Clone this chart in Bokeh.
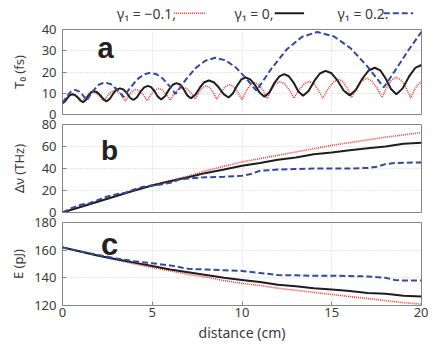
from bokeh.plotting import figure
from bokeh.layouts import column
from bokeh.models import Range1d, FixedTicker
from bokeh.embed import file_html
from bokeh.resources import INLINE
from bokeh.core.properties import value

# ---------------- data ----------------
# Panel a: T0 (fs) vs distance (cm)
a_red_x = [0, 0.2, 0.4, 0.6, 0.77, 0.93, 1.1, 1.3, 1.5, 1.7, 1.9, 2.1, 2.3, 2.5, 2.7, 2.9,
           3.1, 3.3, 3.5, 3.7, 3.9, 4.1, 4.31, 4.51, 4.72, 4.93, 5.14, 5.35, 5.57, 5.78, 6.0,
           6.23, 6.47, 6.7, 6.93, 7.17, 7.4, 7.6, 7.8, 8.0, 8.2, 8.4, 8.6, 8.83, 9.07, 9.3,
           9.53, 9.77, 10.0, 10.23, 10.47, 10.7, 10.93, 11.17, 11.4, 11.63, 11.87, 12.1,
           12.37, 12.63, 12.9, 13.18, 13.47, 13.75, 14.0, 14.25, 14.5, 14.8, 15.1, 15.4,
           15.63, 15.87, 16.1, 16.38, 16.67, 16.95, 17.23, 17.52, 17.8, 18.07, 18.33, 18.6,
           18.87, 19.13, 19.4, 19.6, 19.8, 20.0]
a_red_y = [5.5, 7.5, 9.0, 9.5, 9.0, 7.8, 6.0, 8.3, 9.9, 10.5, 9.9, 8.4, 6.2, 8.8, 10.6, 11.3,
           10.7, 8.8, 6.3, 9.1, 11.1, 11.8, 11.1, 9.2, 6.5, 9.4, 11.5, 12.2, 11.5, 9.5, 6.8,
           9.8, 12.0, 12.8, 12.1, 10.1, 7.3, 10.4, 12.7, 13.5, 12.7, 10.4, 7.2, 10.6, 13.1, 14.0,
           13.1, 10.5, 7.0, 11.0, 14.0, 15.0, 14.0, 11.3, 7.5, 11.5, 14.5, 15.5,
           14.5, 11.6, 7.7, 11.6, 14.5, 15.5, 14.5, 11.6, 7.7, 12.1, 15.4, 16.5,
           15.4, 12.3, 8.0, 12.5, 15.8, 17.0, 15.8, 12.5, 8.0, 12.8, 16.3, 17.5,
           16.2, 12.7, 7.8, 11.5, 14.0, 15.5]

a_black_x = [0, 0.14, 0.28, 0.41, 0.55, 0.7, 0.85, 1.0, 1.15, 1.3, 1.45, 1.6, 1.75, 1.93, 2.1,
             2.28, 2.45, 2.64, 2.83, 3.01, 3.2, 3.39, 3.58, 3.76, 3.95, 4.15, 4.35, 4.55, 4.75,
             4.94, 5.13, 5.31, 5.5, 5.71, 5.93, 6.14, 6.35, 6.55, 6.75, 6.95, 7.15, 7.4, 7.65,
             7.9, 8.15, 8.43, 8.7, 8.98, 9.25, 9.49, 9.73, 9.96, 10.2, 10.46, 10.73, 10.99,
             11.25, 11.53, 11.8, 12.08, 12.35, 12.61, 12.88, 13.14, 13.4, 13.71, 14.03, 14.34,
             14.65, 14.99, 15.33, 15.66, 16.0, 16.35, 16.7, 17.05, 17.4, 17.7, 18.0, 18.3,
             18.6, 18.95, 19.3, 19.65, 20.0]
a_black_y = [5.3, 6.1, 7.8, 9.1, 9.5, 9.1, 8.0, 6.5, 5.8, 6.8, 8.9, 10.5, 11.0, 10.5, 9.1,
             7.2, 6.2, 7.4, 9.9, 11.7, 12.3, 11.8, 10.1, 7.9, 6.8, 8.1, 10.8, 12.8, 13.5,
             12.9, 10.9, 8.4, 7.1, 8.6, 11.7, 14.0, 14.8, 14.1, 11.9, 9.0, 7.6, 9.3, 12.6,
             15.2, 16.0, 15.2, 12.8, 9.6, 8.0, 9.9, 13.6, 16.5, 17.4, 16.5, 13.8, 10.2,
             8.4, 10.5, 14.8, 17.9, 19.0, 18.0, 14.9, 10.8, 8.8, 11.1, 15.8, 19.3,
             20.5, 19.4, 15.9, 11.3, 9.0, 11.6, 16.8, 20.7, 22.0, 20.8, 17.0, 12.0,
             9.5, 12.3, 17.8, 21.9, 23.3]

a_blue_x = [0, 0.23, 0.47, 0.7, 0.92, 1.13, 1.35, 1.68, 2.02, 2.35, 2.7, 3.05, 3.4, 3.78,
            4.15, 4.53, 4.9, 5.25, 5.6, 5.95, 6.3, 6.85, 7.4, 7.95, 8.5, 9.08, 9.65, 10.22,
            10.8, 11.65, 12.5, 13.35, 14.2, 15.13, 16.05, 16.98, 17.9, 18.5, 19.25, 20.0]
a_blue_y = [5.3, 8.5, 10.8, 11.6, 10.9, 9.1, 6.6, 10.9, 14.0, 15.1, 14.2, 11.7, 8.3, 12.6,
            16.4, 18.8, 19.7, 18.9, 16.8, 13.5, 9.7, 16.2, 21.7, 25.3, 26.7, 25.5, 22.2, 17.1,
            11.2, 21.7, 30.7, 36.6, 38.8, 36.7, 31.2, 22.7, 12.8, 20.3, 30.0, 38.9]

# Panel b: spectral width (THz)
b_x = [0, 1, 2, 3, 4, 5, 6, 7, 8, 9, 10, 11, 12, 13, 14, 15, 16, 17, 18, 19, 20]
b_red_y = [0, 5, 10, 15, 20, 25, 29, 33, 38, 42, 46, 49, 52, 55, 58, 61, 63.5, 66, 68.5, 70.5, 72.5]
b_black_y = [0, 5, 10, 15, 20, 24.5, 28.5, 32, 36, 39, 42.5, 45, 48, 50, 53, 54.5, 56.5, 58.5, 60,
             62.5, 63.5]
b_blue_x = [0, 0.5, 1, 1.5, 2, 2.5, 3, 3.5, 4, 4.5, 5, 5.5, 6, 6.5, 7, 8, 9, 10, 10.5, 11, 11.5,
            12, 13, 14, 15, 16, 17, 17.5, 18, 18.5, 19, 20]
b_blue_y = [0, 4, 7, 8.5, 11.5, 14.5, 16.5, 18, 21, 23.5, 24.5, 25.5, 27, 30, 31, 32, 32.5, 33.5,
            35, 38, 38.5, 39, 39.5, 40, 40, 40, 40.5, 41.5, 44, 45, 45.2, 45.5]

# Panel c: energy (pJ)
c_x = [0, 1, 2, 3, 4, 5, 6, 7, 8, 9, 10, 11, 12, 13, 14, 15, 16, 17, 18, 19, 20]
c_red_y = [162, 159, 156, 153, 150, 147.5, 145, 142.5, 140.5, 138, 136, 134.5, 132.5, 131, 129.5,
           128, 126.5, 125, 123.5, 122, 121]
c_black_y = [162, 159, 156, 153.5, 151, 148.5, 146, 144, 142, 140, 138.5, 137, 135, 134, 132.5,
             131.5, 130.5, 129, 128.5, 127, 126.5]
c_blue_x = [0, 1, 2, 3, 4, 5, 6, 7, 8, 9, 10, 11, 12, 13, 14, 15, 16, 17, 18, 18.5, 19, 20]
c_blue_y = [162, 159, 156.5, 154, 152, 150.5, 149, 146.5, 146, 145.5, 145, 143.5, 142, 141.8,
            141.5, 141.5, 141.3, 141, 140, 138.5, 138, 138]

x_ticks = [0, 5, 10, 15, 20]
a_ticks = [0, 10, 20, 30, 40]
b_ticks = [0, 20, 40, 60, 80]
c_ticks = [120, 140, 160, 180]
legend_labels = ["γ₁ = −0.1,", "γ₁ = 0,", "γ₁ = 0.2."]

# ---------------- styles ----------------
FONT = "Noto Sans"
W = 428
RED = "#f03a3a"
BLACK = "#1e1e1e"
BLUE = "#3448a2"
TXT = "#3a3a3a"
RED_DASH = "1 1"
BLUE_DASH = "6 3"


def draw(p, xs, ys, kind):
    if kind == "red":
        p.line(xs, ys, color=RED, line_width=1.6, line_dash=RED_DASH)
    elif kind == "black":
        p.line(xs, ys, color=BLACK, line_width=2)
    else:
        p.line(xs, ys, color=BLUE, line_width=2, line_dash=BLUE_DASH)


def panel(h, top, bottom, yr, yticks, ylabel, show_x, label_standoff, overlap):
    p = figure(width=W, height=h, output_backend="svg", toolbar_location=None,
               x_range=Range1d(0, 20), y_range=Range1d(*yr),
               min_border_left=62, min_border_right=7,
               min_border_top=top, min_border_bottom=bottom,
               margin=(-overlap, 0, 0, 0))
    p.border_fill_color = None
    p.outline_line_color = "#858585"
    p.outline_line_width = 1
    p.background_fill_color = "white"
    for ax in (p.xaxis[0], p.yaxis[0]):
        ax.axis_line_color = None
        ax.major_tick_in = 4
        ax.major_tick_out = 0
        ax.major_tick_line_color = "#858585"
        ax.minor_tick_line_color = None
        ax.major_label_text_font = FONT
        ax.major_label_text_font_size = "13px"
        ax.major_label_text_color = TXT
        ax.axis_label_text_font = FONT
        ax.axis_label_text_font_style = "normal"
        ax.axis_label_text_color = TXT
    p.xaxis.ticker = FixedTicker(ticks=x_ticks)
    p.xgrid.ticker = FixedTicker(ticks=x_ticks)
    p.yaxis.ticker = FixedTicker(ticks=yticks)
    p.ygrid.ticker = FixedTicker(ticks=yticks)
    p.yaxis.major_label_standoff = 6
    p.yaxis.axis_label = ylabel
    p.yaxis.axis_label_text_font_size = "13px"
    p.yaxis.axis_label_standoff = label_standoff
    if show_x:
        p.xaxis.axis_label = "distance (cm)"
        p.xaxis.axis_label_text_font_size = "14px"
        p.xaxis.major_label_standoff = 2
        p.xaxis.axis_label_standoff = 3
    else:
        p.xaxis.visible = False
    p.grid.grid_line_color = "#cfcfcf"
    p.grid.grid_line_dash = "1 2"
    p.grid.grid_line_width = 1
    return p


# legend strip
leg = figure(width=W, height=28, output_backend="svg", toolbar_location=None,
             x_range=Range1d(0, 428), y_range=Range1d(0, 28),
             min_border_left=0, min_border_right=0, min_border_top=0, min_border_bottom=0)
leg.border_fill_color = None
leg.background_fill_color = None
leg.axis.visible = False
leg.grid.visible = False
leg.outline_line_color = None
leg.text(x=[65, 205, 328], y=[15.5, 15.5, 15.5], text=legend_labels,
         text_font=value(FONT), text_font_size="14px", text_color=TXT,
         text_baseline="middle", text_align="left")
leg.line([133, 170], [15.3, 15.3], color=RED, line_width=1.6, line_dash=RED_DASH)
leg.line([253, 288], [15.3, 15.3], color=BLACK, line_width=2)
leg.line([383, 418], [15.3, 15.3], color=BLUE, line_width=2, line_dash=BLUE_DASH)

# frames: a 29..114, b 124..212, c 222..309 (page px)
pa = panel(103, 9, 9, (0, 40), a_ticks, "T₀ (fs)", False, 11, 8)
draw(pa, a_red_x, a_red_y, "red")
draw(pa, a_black_x, a_black_y, "black")
draw(pa, a_blue_x, a_blue_y, "blue")
pa.text(x=[1.95], y=[31.3], text=["a"], text_font=value("Liberation Sans"), text_font_size="29px",
        text_font_style="bold", text_color="#222222", text_baseline="alphabetic")

pb = panel(106, 9, 9, (0, 80), b_ticks, "Δν (THz)", False, 11, 8)
draw(pb, b_x, b_red_y, "red")
draw(pb, b_x, b_black_y, "black")
draw(pb, b_blue_x, b_blue_y, "blue")
pb.text(x=[2.15], y=[56.4], text=["b"], text_font=value("Liberation Sans"), text_font_size="28px",
        text_font_style="bold", text_color="#222222", text_baseline="alphabetic")

pc = panel(131, 9, 35, (120, 180), c_ticks, "E (pJ)", True, 4, 8)
draw(pc, c_x, c_red_y, "red")
draw(pc, c_x, c_black_y, "black")
draw(pc, c_blue_x, c_blue_y, "blue")
pc.text(x=[2.15], y=[163.8], text=["c"], text_font=value("Liberation Sans"), text_font_size="31px",
        text_font_style="bold", text_color="#222222", text_baseline="alphabetic")

layout = column(leg, pa, pb, pc, spacing=0)
open("out.html", "w").write(file_html(layout, INLINE))
